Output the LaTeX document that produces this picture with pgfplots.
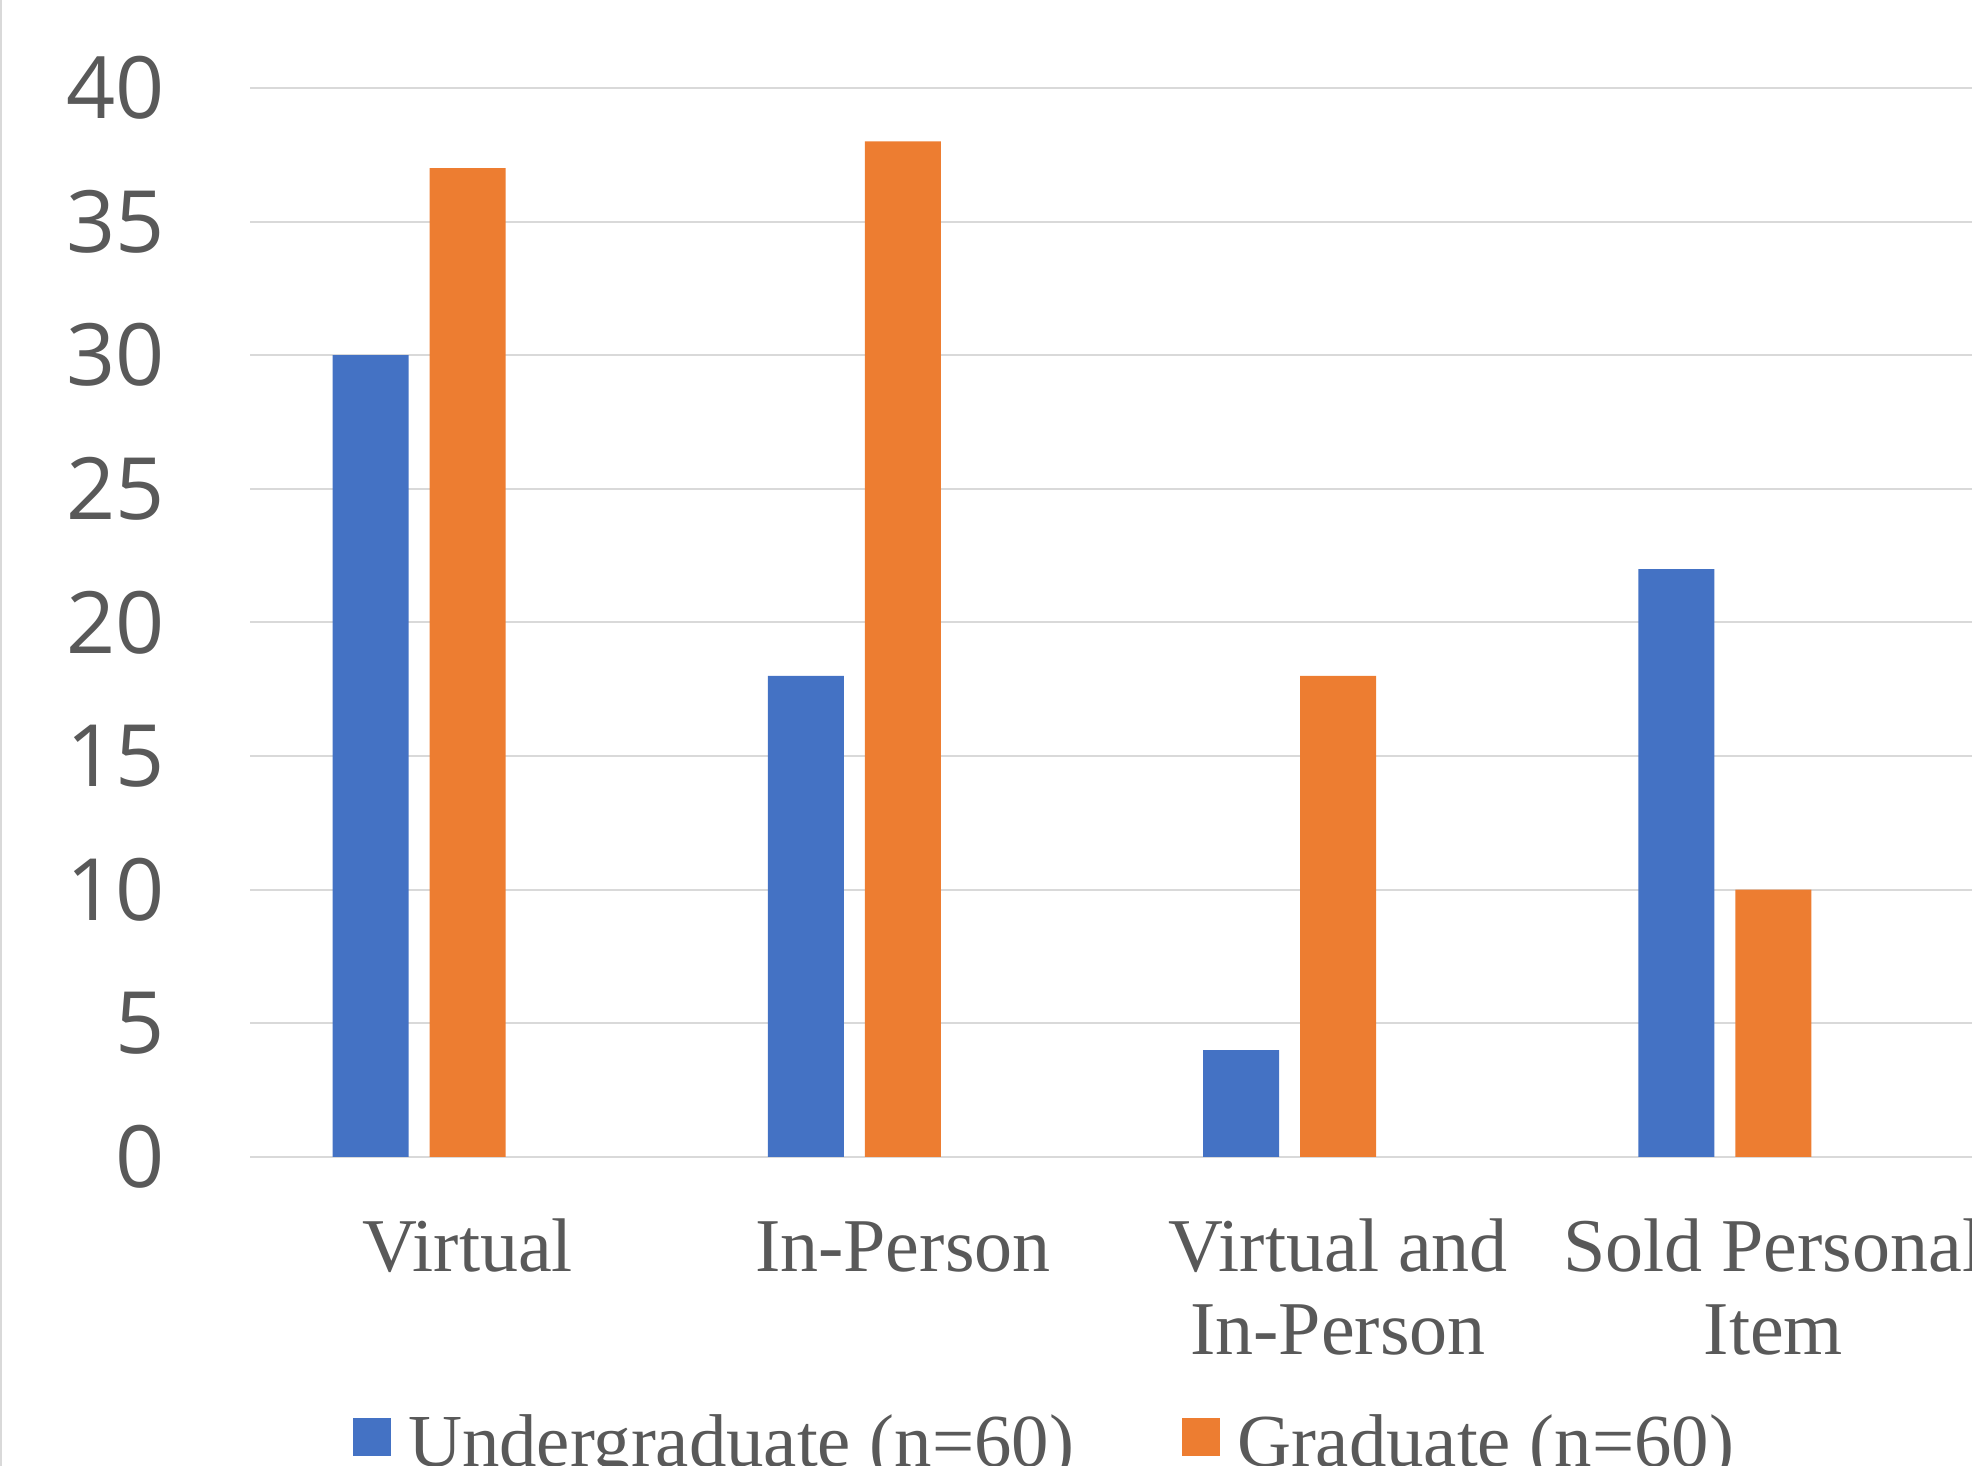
\documentclass[border=0pt]{standalone}
\usepackage{pgfplots}
\pgfplotsset{compat=1.18}
\usepackage{fontspec}
\setmainfont{Liberation Serif}
\newfontfamily\tickfont{Open Sans}
\definecolor{exblue}{HTML}{4472C4}
\definecolor{exorange}{HTML}{ED7D31}
\definecolor{exgrid}{HTML}{D9D9D9}
\definecolor{extext}{HTML}{595959}
\pgfplotsset{sqlegend/.style={legend image code/.code={\fill[##1] (0pt,-7.1pt) rectangle (19pt,11.9pt);}}}
\begin{document}
\begin{tikzpicture}[x=1pt,y=1pt]
\begin{scope}
\clip (0,0) rectangle (986,733);
\draw[exgrid, line width=1pt] (0.5,0) -- (0.5,733);
\begin{axis}[
  at={(125pt,154.5pt)}, anchor=south west,
  scale only axis, width=870.5pt, height=534.5pt,
  xmin=-0.5, xmax=3.5, ymin=0, ymax=40,
  axis line style={draw=none},
  major tick length=0pt,
  ytick={0,5,...,40},
  ymajorgrids, grid style={exgrid, line width=1pt},
  xtick={0,1,2,3},
  xticklabels={{\strut Virtual},{\strut In-Person},{\strut Virtual and\\In-Person},{\strut Sold Personal\\Item}},
  xticklabel style={align=center, font=\fontsize{38}{41.5}\selectfont, text=extext, inner sep=0pt, anchor=north, yshift=-27.9pt},
  /pgf/number format/assume math mode=true,
  yticklabel style={font=\tickfont\fontsize{43}{50}\selectfont, text=extext, inner sep=0pt, anchor=east, xshift=-42.5pt},
  legend columns=2,
  legend style={draw=none, fill=none, inner sep=0pt, outer sep=0pt,
    at={(axis description cs:0.0592,-0.2664)}, anchor=west,
    font=\fontsize{37.4}{41.5}\selectfont, text=extext,
    nodes={inner sep=0pt},
    /tikz/every odd column/.append style={column sep=8.5pt},
    /tikz/every even column/.append style={column sep=54pt}},
]
\addplot[ybar, bar width=38pt, bar shift=-48.5pt, fill=exblue, draw=none, sqlegend] coordinates {(0,30) (1,18) (2,4) (3,22)};
\addplot[ybar, bar width=38pt, bar shift=0pt, fill=exorange, draw=none, sqlegend] coordinates {(0,37) (1,38) (2,18) (3,10)};
\legend{Undergraduate (n=60), Graduate (n=60)}
\end{axis}
\end{scope}
\pgfresetboundingbox
\useasboundingbox (0,0) rectangle (986,733);
\end{tikzpicture}
\end{document}
